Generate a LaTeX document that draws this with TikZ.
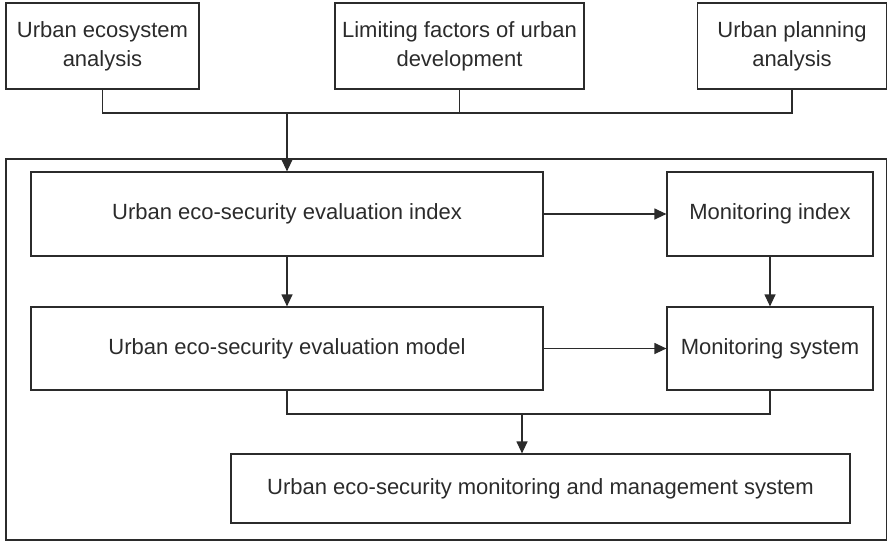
\documentclass[tikz,border=0pt]{standalone}
\usepackage{fontspec}
\setmainfont{Liberation Sans}
\usetikzlibrary{arrows.meta}
\definecolor{ink}{HTML}{2B2B2B}
\begin{document}
\begin{tikzpicture}[x=1pt,y=1pt,
  box/.style={draw=ink,line width=1.2pt,text=ink,align=center,inner sep=0pt,
    font=\fontsize{22}{29}\selectfont},
  link/.style={draw=ink,line width=1.2pt},
  arr/.style={link,-{Triangle[length=12pt,width=11pt]}}]
\useasboundingbox (0,0) rectangle (888,-541);
\node [box,minimum width=193,minimum height=86] (eco) at (102.5,-46) {Urban ecosystem\\analysis};
\node [box,minimum width=249,minimum height=86] (limit) at (459.5,-46) {Limiting factors of urban\\development};
\node [box,minimum width=189,minimum height=86] (plan) at (792,-46) {Urban planning\\analysis};
\draw [link] (6,-159) rectangle (886.5,-540);
\node [box,minimum width=512,minimum height=84] (index) at (287,-214) {Urban eco-security evaluation index};
\node [box,minimum width=206,minimum height=84] (monidx) at (770,-214) {Monitoring index};
\node [box,minimum width=512,minimum height=83] (model) at (287,-348.5) {Urban eco-security evaluation model};
\node [box,minimum width=206,minimum height=83] (monsys) at (770,-348.5) {Monitoring system};
\node [box,minimum width=619,minimum height=69] (mgmt) at (540.5,-488.5) {Urban eco-security monitoring and management system};
\coordinate (topbus) at (0,-113);
\coordinate (drop) at (522,-414);
\draw [link] (eco.south) -- (eco.south |- topbus) -| (plan.south);
\draw [link] (limit.south) -- (limit.south |- topbus);
\draw [arr] (index.north |- topbus) -- (index.north);
\draw [arr] (index) -- (monidx);
\draw [arr] (index) -- (model);
\draw [arr] (monidx) -- (monsys);
\draw [arr] (model) -- (monsys);
\draw [link] (model.south) |- (drop) -| (monsys.south);
\draw [arr] (drop) -- (drop |- mgmt.north);
\end{tikzpicture}
\end{document}
